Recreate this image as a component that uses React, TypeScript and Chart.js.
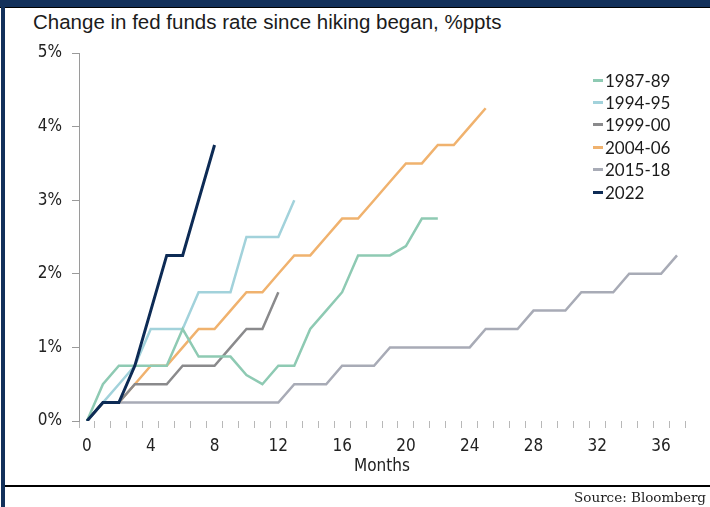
import React, { useEffect, useRef } from 'react';
import { Chart, registerables } from 'chart.js';

Chart.register(...registerables);

// Months since hiking began (category axis)
const months = ['0','1','2','3','4','5','6','7','8','9','10','11','12','13','14','15','16','17','18','19','20','21','22','23','24','25','26','27','28','29','30','31','32','33','34','35','36','37'];
const xTickLabels = ['0','4','8','12','16','20','24','28','32','36'];
const yTickValues = [0, 1, 2, 3, 4, 5];

// Cumulative change in fed funds rate, %ppts
const s1987 = [0, 0.5, 0.75, 0.75, 0.75, 0.75, 1.25, 0.875, 0.875, 0.875, 0.625, 0.5, 0.75, 0.75, 1.25, 1.5, 1.75, 2.25, 2.25, 2.25, 2.375, 2.75, 2.75];
const s1994 = [0, 0.25, 0.5, 0.75, 1.25, 1.25, 1.25, 1.75, 1.75, 1.75, 2.5, 2.5, 2.5, 3.0];
const s1999 = [0, 0.25, 0.25, 0.5, 0.5, 0.5, 0.75, 0.75, 0.75, 1.0, 1.25, 1.25, 1.75];
const s2004 = [0, 0.25, 0.25, 0.5, 0.75, 0.75, 1.0, 1.25, 1.25, 1.5, 1.75, 1.75, 2.0, 2.25, 2.25, 2.5, 2.75, 2.75, 3.0, 3.25, 3.5, 3.5, 3.75, 3.75, 4.0, 4.25];
const s2015 = [0, 0.25, 0.25, 0.25, 0.25, 0.25, 0.25, 0.25, 0.25, 0.25, 0.25, 0.25, 0.25, 0.5, 0.5, 0.5, 0.75, 0.75, 0.75, 1.0, 1.0, 1.0, 1.0, 1.0, 1.0, 1.25, 1.25, 1.25, 1.5, 1.5, 1.5, 1.75, 1.75, 1.75, 2.0, 2.0, 2.0, 2.25];
const s2022 = [0, 0.25, 0.25, 0.75, 1.5, 2.25, 2.25, 3.0, 3.75];

const seriesNames = ['1987-89', '1994-95', '1999-00', '2004-06', '2015-18', '2022'];
const seriesData = [s1987, s1994, s1999, s2004, s2015, s2022];
const seriesColors = ['#8ecab3', '#a2d2db', '#8a8a8c', '#f0b26e', '#a8abb6', '#0d2b55'];
const seriesWidths = [2.5, 2.5, 2.5, 2.5, 2.5, 3];
const seriesOrder = [1, 2, 3, 4, 5, 0];

const condensed = '"Liberation Sans Narrow", "DejaVu Sans Condensed", sans-serif';

export default function App() {
  const ref = useRef<HTMLCanvasElement>(null);

  useEffect(() => {
    const chart = new Chart(ref.current as HTMLCanvasElement, {
      type: 'line',
      data: {
        labels: months,
        datasets: seriesNames.map((name, i) => ({
          label: name,
          data: seriesData[i],
          borderColor: seriesColors[i],
          backgroundColor: seriesColors[i],
          borderWidth: seriesWidths[i],
          pointRadius: 0,
          tension: 0,
          fill: false,
          order: seriesOrder[i],
          borderCapStyle: 'butt',
          borderJoinStyle: 'miter',
        })),
      },
      options: {
        animation: false,
        responsive: false,
        layout: { padding: { left: 0, right: 25, top: 53, bottom: 26 } },
        plugins: {
          legend: { display: false },
          title: { display: false },
          tooltip: { enabled: false },
        },
        scales: {
          x: {
            type: 'category',
            offset: true,
            grid: { offset: true, drawOnChartArea: false, drawTicks: true, tickLength: 7, color: '#b8b8b8' },
            border: { display: false },
            ticks: {
              autoSkip: false,
              maxRotation: 0,
              padding: 8,
              color: '#222',
              font: { family: condensed, size: 17 },
              callback: (_v: any, i: number) => (xTickLabels.includes(months[i]) ? months[i] : ''),
            },
            title: {
              display: true,
              text: 'Months',
              color: '#222',
              font: { family: condensed, size: 17 },
              padding: { top: 0, bottom: 4 },
            },
            afterFit: (s: any) => { s.height = 60; },
          },
          y: {
            min: 0,
            max: 5,
            afterBuildTicks: (s: any) => { s.ticks = yTickValues.map((v) => ({ value: v })); },
            ticks: {
              padding: 10,
              color: '#222',
              font: { family: condensed, size: 17 },
              callback: (v: any) => v + '%',
            },
            grid: { drawOnChartArea: false, drawTicks: true, tickLength: 7, color: '#9a9a9a' },
            border: { display: true, color: '#9a9a9a', width: 1 },
            afterFit: (s: any) => { s.width = 79; },
          },
        },
      },
    } as any);
    return () => chart.destroy();
  }, []);

  return (
    <div style={{ position: 'absolute', left: 0, top: 0, width: 710, height: 507, background: '#fff', overflow: 'hidden' }}>
      <div style={{ position: 'absolute', left: 0, top: 0, width: 710, height: 7, background: '#12305a', borderBottom: '1px solid #000' }} />
      <div style={{ position: 'absolute', left: 1, top: 0, width: 4, height: 507, background: '#12305a' }} />
      <div style={{ position: 'absolute', left: 33, top: 10, font: '20.5px "Liberation Sans", Arial, sans-serif', color: '#1b1b1b', whiteSpace: 'nowrap' }}>
        Change in fed funds rate since hiking began, %ppts
      </div>
      <canvas ref={ref} width={710} height={507} style={{ position: 'absolute', left: 0, top: 0, width: 710, height: 507 }} />
      {seriesNames.map((name, i) => (
        <div key={name} style={{ position: 'absolute', left: 593, top: 69 + i * 22.4, height: 22, display: 'flex', alignItems: 'center', font: '17px Lato, "Open Sans", sans-serif', color: '#1b1b1b', whiteSpace: 'nowrap' }}>
          <span style={{ display: 'inline-block', width: 10, height: 3, background: seriesColors[i], marginRight: 2 }} />
          <span>{name}</span>
        </div>
      ))}
      <div style={{ position: 'absolute', left: 5, top: 485, width: 705, height: 2, background: '#000' }} />
      <div style={{ position: 'absolute', right: 4, top: 489, font: '13.5px "DejaVu Serif", serif', color: '#222', whiteSpace: 'nowrap' }}>
        Source: Bloomberg
      </div>
    </div>
  );
}
